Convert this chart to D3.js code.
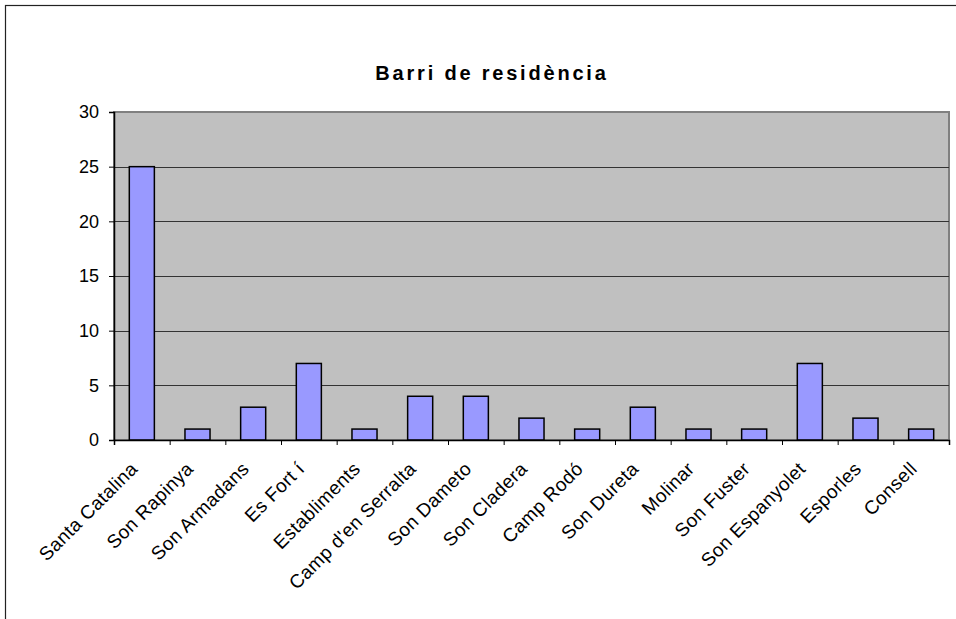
<!DOCTYPE html>
<html>
<head>
<meta charset="utf-8">
<script src="https://cdn.jsdelivr.net/npm/d3@7"></script>
<style>
	body { margin: 0; background: #fff; }
	svg text { font-family: "Liberation Sans", Arial, sans-serif; fill: #000; }
</style>
</head>
<body>
<div id="chart"></div>
<script>
const TITLE = "Barri de residència";
const CATEGORIES = [
	"Santa Catalina", "Son Rapinya", "Son Armadans", "Es Fort\u00a0í", "Establiments",
	"Camp d'en Serralta", "Son Dameto", "Son Cladera", "Camp Rodó", "Son Dureta",
	"Molinar", "Son Fuster", "Son Espanyolet", "Esporles", "Consell"
];
const VALUES = [25, 1, 3, 7, 1, 4, 4, 2, 1, 3, 1, 1, 7, 2, 1];
const Y_TICKS = [0, 5, 10, 15, 20, 25, 30];

var width = 956;
var height = 619;
var margin = { top: 112, right: 7, bottom: 179, left: 114 };

var svg = d3.select("#chart").append("svg")
	.attr("width", width)
	.attr("height", height);

// outer chart frame (cropped on right/bottom)
svg.append("rect")
	.attr("x", 5.5).attr("y", 5.5)
	.attr("width", width + 20).attr("height", height + 20)
	.attr("fill", "#fff")
	.attr("stroke", "#222")
	.attr("stroke-width", 1.2);

var x = d3.scaleBand()
	.domain(CATEGORIES)
	.range([margin.left, width - margin.right])
	.paddingInner(0.55)
	.paddingOuter(0.275);

// edges between categories, for the tick marks
var xEdges = d3.scaleLinear()
	.domain([0, CATEGORIES.length])
	.range([margin.left, width - margin.right]);

var y = d3.scaleLinear()
	.domain([0, 30])
	.range([height - margin.bottom, margin.top]);

// plot area
svg.append("rect")
	.attr("x", margin.left)
	.attr("y", margin.top)
	.attr("width", width - margin.left - margin.right)
	.attr("height", y(0) - margin.top)
	.attr("fill", "#c0c0c0")
	.attr("stroke", "#808080")
	.attr("stroke-width", 2);

// gridlines
svg.append("g")
	.selectAll("line")
	.data(Y_TICKS.filter(d => d > 0 && d < 30))
	.join("line")
	.attr("x1", margin.left)
	.attr("x2", width - margin.right)
	.attr("y1", d => Math.round(y(d)) + 0.5)
	.attr("y2", d => Math.round(y(d)) + 0.5)
	.attr("stroke", "#333")
	.attr("stroke-width", 1);

// bars
svg.append("g")
	.selectAll("rect")
	.data(VALUES)
	.join("rect")
	.attr("x", (d, i) => x(CATEGORIES[i]))
	.attr("y", d => y(d))
	.attr("width", x.bandwidth())
	.attr("height", d => y(0) - y(d))
	.attr("fill", "#9999ff")
	.attr("stroke", "#000")
	.attr("stroke-width", 1.5);

// y axis
var yAxis = d3.axisLeft(y)
	.tickValues(Y_TICKS)
	.tickSize(5)
	.tickPadding(10);

svg.append("g")
	.attr("transform", "translate(" + margin.left + ",0)")
	.call(yAxis)
	.call(g => g.selectAll(".tick text").attr("font-size", "18px").attr("fill", "#000"))
	.call(g => g.select(".domain").attr("stroke", "#000").attr("stroke-width", 1.5))
	.call(g => g.selectAll(".tick line").attr("stroke", "#000"));

// x axis: ticks at category edges
var xAxis = d3.axisBottom(xEdges)
	.tickValues(d3.range(CATEGORIES.length + 1))
	.tickSize(5)
	.tickFormat("");

svg.append("g")
	.attr("transform", "translate(0," + y(0) + ")")
	.call(xAxis)
	.call(g => g.select(".domain").attr("stroke", "#000").attr("stroke-width", 1.5))
	.call(g => g.selectAll(".tick line").attr("stroke", "#000"));

// category labels
svg.append("g")
	.selectAll("text")
	.data(CATEGORIES)
	.join("text")
	.attr("text-anchor", "end")
	.attr("font-size", "19px")
	.attr("letter-spacing", "0.4px")
	.attr("transform", d => "translate(" + (x(d) + x.bandwidth() / 2 - 3) + "," + (y(0) + 30) + ") rotate(-45)")
	.text(d => d);

// title
svg.append("text")
	.attr("x", 492)
	.attr("y", 80)
	.attr("text-anchor", "middle")
	.attr("font-size", "20px")
	.attr("font-weight", "bold")
	.attr("letter-spacing", "2.8px")
	.text(TITLE);
</script>
</body>
</html>
